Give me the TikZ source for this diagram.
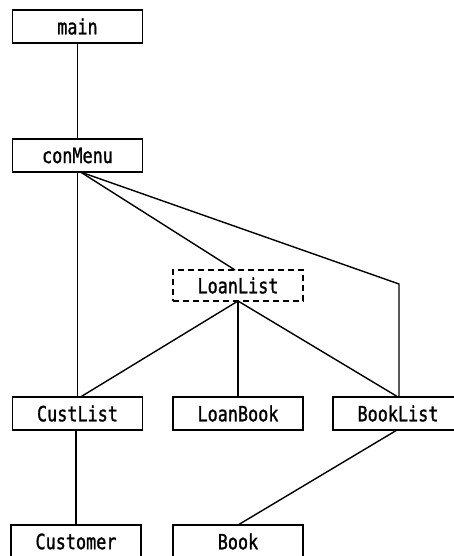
\documentclass[tikz,border=0pt]{standalone}
\usepackage{fontspec}
\newfontfamily\boxfont[FakeStretch=0.8,FakeBold=1.2]{DejaVu Sans Mono}
\begin{document}
\begin{tikzpicture}[x=1pt,y=1pt,
  modbox/.style={draw, line width=1.4pt, minimum width=130pt, minimum height=33pt,
    inner sep=0pt, outer sep=0pt, font=\boxfont\fontsize{21}{21}\selectfont},
  optbox/.style={modbox, dashed, dash pattern=on 6pt off 4pt, minimum height=31pt},
  link/.style={line width=1.4pt}]
\useasboundingbox (0,0) rectangle (454,-556);
% modules
\node[modbox] (main)     at (77.5,-26.5)  {main};
\node[modbox] (conMenu)  at (77.5,-155.5) {conMenu};
\node[optbox] (LoanList) at (238,-285.5)  {LoanList};
\node[modbox] (CustList) at (77.5,-413.5) {CustList};
\node[modbox] (LoanBook) at (238,-413.5)  {LoanBook};
\node[modbox] (BookList) at (398,-413.5)  {BookList};
\node[modbox] (Customer) at (76,-541.5)   {Customer};
\node[modbox] (Book)     at (238,-541.5)  {Book};
% calls
\coordinate (bend) at (399,-284);
\draw[link] (main.south) -- (conMenu.north);
\draw[link] (conMenu.south) -- (CustList.north);
\draw[link] ([xshift=3pt]conMenu.south) -- ([xshift=-3pt]LoanList.north);
\draw[link] ([xshift=3pt]conMenu.south) -- (bend) -- ([xshift=1pt]BookList.north);
\draw[link] (LoanList.south) -- ([xshift=3pt]CustList.north);
\draw[link] (LoanList.south) -- (LoanBook.north);
\draw[link] (LoanList.south) -- (BookList.north);
\draw[link] ([xshift=-1pt]BookList.south) -- (Book.north);
\draw[link] (Customer.north |- CustList.south) -- (Customer.north);
\end{tikzpicture}
\end{document}
